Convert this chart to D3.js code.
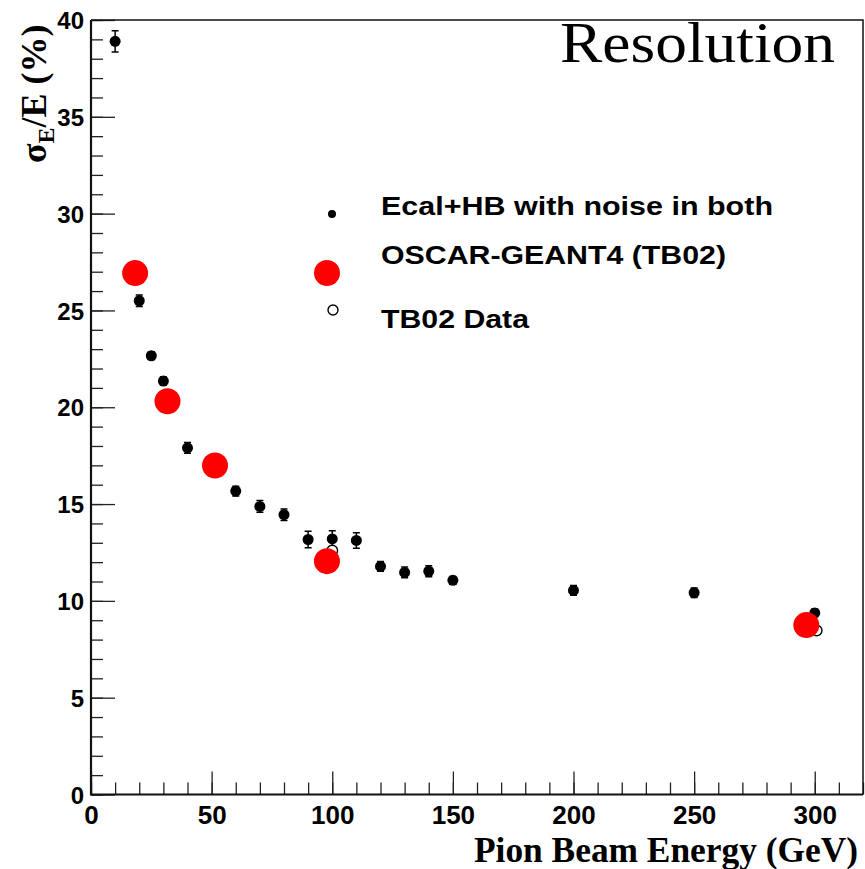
<!DOCTYPE html>
<meta charset="utf-8">
<style>
  body { margin: 0; background: #fff; }
  svg { display: block; }
  .tick text { font-family: "Liberation Sans", Arial, sans-serif; font-weight: bold; }
</style>
<body>
<svg></svg>
<script src="https://d3js.org/d3.v7.min.js"></script>
<script>

// Ecal+HB with noise in both (black points with errors)
var simE   = [10, 20, 25, 30, 40, 60, 70, 80, 90, 100, 110, 120, 130, 140, 150, 200, 250, 300];
var simRes = [38.9, 25.5, 22.66, 21.35, 17.9, 15.67, 14.88, 14.45, 13.17, 13.2, 13.12, 11.78, 11.47, 11.53, 11.06, 10.54, 10.42, 9.38];
var simErr = [0.55, 0.3, 0.2, 0.22, 0.28, 0.25, 0.3, 0.3, 0.42, 0.42, 0.4, 0.25, 0.28, 0.28, 0.2, 0.25, 0.25, 0.2];

// OSCAR-GEANT4 (TB02) red points
var g4E   = [18.3, 31.7, 51.4, 97.8, 296.5];
var g4Res = [26.93, 20.31, 16.99, 12.05, 8.75];

// TB02 data, open circles
var tbE   = [100, 300.8];
var tbRes = [12.6, 8.47];

var legendLabels = ["Ecal+HB with noise in both", "OSCAR-GEANT4 (TB02)", "TB02 Data"];

var width = 865, height = 869;
var mLeft = 91, mRight = 863, mTop = 20, mBottom = 794.5;

var svg = d3.select('svg').attr('width', width).attr('height', height);

var x = d3.scaleLinear().domain([0, 320]).range([mLeft, mRight]);
var y = d3.scaleLinear().domain([0, 40]).range([mBottom, mTop]);

// minor ticks
svg.append('g')
    .attr('transform', 'translate(0,' + mBottom + ')')
    .call(d3.axisBottom(x).tickValues(d3.range(0, 321, 10)).tickSize(-12).tickFormat(''))
    .call(function (g) { g.select('.domain').remove(); });
svg.append('g')
    .attr('transform', 'translate(' + mLeft + ',0)')
    .call(d3.axisLeft(y).tickValues(d3.range(0, 41, 1)).tickSize(-12).tickFormat(''))
    .call(function (g) { g.select('.domain').remove(); });

// major ticks + labels
var xa = svg.append('g')
    .attr('transform', 'translate(0,' + mBottom + ')')
    .call(d3.axisBottom(x).tickValues(d3.range(0, 301, 50)).tickSize(-23).tickPadding(12));
xa.select('.domain').remove();
xa.selectAll('text').style('font-size', '26px').attr('dy', '0.71em').attr('y', 11);

var ya = svg.append('g')
    .attr('transform', 'translate(' + mLeft + ',0)')
    .call(d3.axisLeft(y).tickValues(d3.range(0, 41, 5)).tickSize(-24).tickPadding(7));
ya.select('.domain').remove();
ya.selectAll('text').style('font-size', '24px').attr('dy', '0.36em');

svg.selectAll('.tick line').attr('stroke', '#222').attr('stroke-width', 1.3);

// frame
svg.append('path')
    .attr('d', 'M' + mLeft + ',' + mTop + 'H' + mRight + 'V' + mBottom)
    .attr('fill', 'none').attr('stroke', '#111').attr('stroke-width', 1.5);
svg.append('path')
    .attr('d', 'M' + mLeft + ',' + mTop + 'V' + mBottom + 'H' + mRight)
    .attr('fill', 'none').attr('stroke', '#111').attr('stroke-width', 2.2);

// title
svg.append('text')
    .attr('x', 560).attr('y', 62)
    .attr('textLength', 275).attr('lengthAdjust', 'spacingAndGlyphs')
    .style('font-family', '"Liberation Serif", "Times New Roman", serif')
    .style('font-size', '58px')
    .text('Resolution');

// axis titles
svg.append('text')
    .attr('x', 858).attr('y', 862)
    .attr('text-anchor', 'end')
    .attr('textLength', 384).attr('lengthAdjust', 'spacingAndGlyphs')
    .style('font-family', '"Liberation Serif", "Times New Roman", serif')
    .style('font-weight', 'bold').style('font-size', '36px')
    .text('Pion Beam Energy (GeV)');

var yt = svg.append('text')
    .attr('transform', 'translate(46,163) rotate(-90)')
    .style('font-family', '"Liberation Serif", "Times New Roman", serif')
    .style('font-weight', 'bold').style('font-size', '36px');
yt.append('tspan').text('σ');
yt.append('tspan').attr('dy', 8).style('font-size', '24px').text('E');
yt.append('tspan').attr('dy', -8).text('/E (%)');

// black points with error bars
var sim = simE.map(function (e, i) { return { e: e, r: simRes[i], err: simErr[i] }; });
var sg = svg.append('g');
sg.selectAll('path.err')
    .data(sim).enter().append('path')
    .attr('class', 'err')
    .attr('d', function (d) {
        var cx = x(d.e), y0 = y(d.r - d.err), y1 = y(d.r + d.err);
        return 'M' + cx + ',' + y0 + 'V' + y1 +
            'M' + (cx - 3.5) + ',' + y0 + 'H' + (cx + 3.5) +
            'M' + (cx - 3.5) + ',' + y1 + 'H' + (cx + 3.5);
    })
    .attr('stroke', '#000').attr('stroke-width', 1.5).attr('fill', 'none');
sg.selectAll('circle')
    .data(sim).enter().append('circle')
    .attr('cx', function (d) { return x(d.e); })
    .attr('cy', function (d) { return y(d.r); })
    .attr('r', 5.5).attr('fill', '#000');

// open circles
svg.append('g').selectAll('circle')
    .data(tbE).enter().append('circle')
    .attr('cx', function (d) { return x(d); })
    .attr('cy', function (d, i) { return y(tbRes[i]); })
    .attr('r', 5.3).attr('fill', '#fff').attr('stroke', '#000').attr('stroke-width', 1.4);

// red points
svg.append('g').selectAll('circle')
    .data(g4E).enter().append('circle')
    .attr('cx', function (d) { return x(d); })
    .attr('cy', function (d, i) { return y(g4Res[i]); })
    .attr('r', 13).attr('fill', '#ff0000');

// legend
var leg = svg.append('g');
leg.append('circle').attr('cx', 332).attr('cy', 214).attr('r', 4).attr('fill', '#000');
leg.append('circle').attr('cx', 327).attr('cy', 273).attr('r', 13).attr('fill', '#ff0000');
leg.append('circle').attr('cx', 333).attr('cy', 310).attr('r', 5).attr('fill', '#fff')
    .attr('stroke', '#000').attr('stroke-width', 1.4);
var ly = [215, 264, 328];
var lw = [392, 345, 148];
leg.selectAll('text').data(legendLabels).enter().append('text')
    .attr('x', 381).attr('y', function (d, i) { return ly[i]; })
    .attr('textLength', function (d, i) { return lw[i]; })
    .attr('lengthAdjust', 'spacingAndGlyphs')
    .style('font-family', '"Liberation Sans", Arial, sans-serif')
    .style('font-weight', 'bold').style('font-size', '26px')
    .text(function (d) { return d; });

</script>
</body>
